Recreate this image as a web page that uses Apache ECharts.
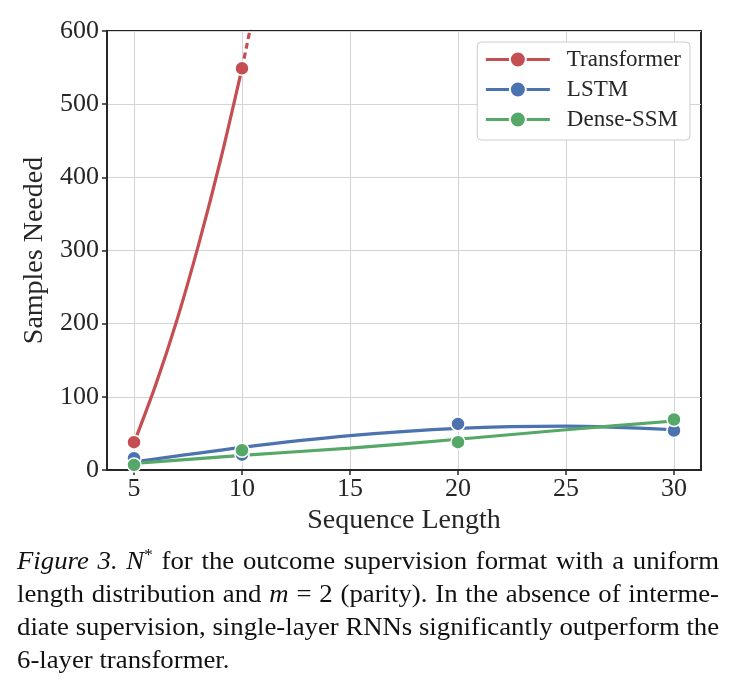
<!DOCTYPE html>
<html>
<head>
<meta charset="utf-8">
<script src="https://cdn.jsdelivr.net/npm/echarts@6/dist/echarts.min.js"></script>
<style>
  html, body { margin: 0; padding: 0; background: #fff; }
  #chart { width: 739px; height: 680px; position: absolute; left: 0; top: 0; }
  .caption {
    position: absolute; left: 17px; top: 544px; width: 702px;
    font-family: "Liberation Serif", serif; font-size: 25px; line-height: 33px; color: #111;
  }
  .caption .line { white-space: nowrap; transform-origin: 0 0; }
  .caption .line span { display: inline-block; }
  .caption sup { font-size: 16px; vertical-align: 9px; line-height: 0; }
</style>
</head>
<body>
<div id="chart"></div>
<div class="caption">
  <div class="line"><span><i>Figure 3.</i> <i>N</i><sup>*</sup> for the outcome supervision format with a uniform</span></div>
  <div class="line"><span>length distribution and <i>m</i> = 2 (parity). In the absence of interme-</span></div>
  <div class="line"><span>diate supervision, single-layer RNNs significantly outperform the</span></div>
  <div class="line last"><span>6-layer transformer.</span></div>
</div>
<script>
  // measured points
  var seqLen = [5, 10, 20, 30]
  var transformerPts = [[5, 38], [10, 549]]
  var lstmVals = [16, 21, 63, 54]
  var denseVals = [7, 27, 38, 69]

  // fitted curves
  var transformerFit = [[5, 37], [6, 116], [7, 206], [8, 309], [9, 423], [10, 549]]
  var transformerExt = [[10, 549], [10.2, 577], [10.4, 606]]
  var lstmFit = [[5, 11], [10, 31], [15, 47], [20, 57], [25, 60], [30, 55]]
  var denseFit = [[5, 9], [10, 20], [15, 30], [20, 42], [25, 55], [30, 67]]

  var xTicks = [5, 10, 15, 20, 25, 30]

  var colors = {
    Transformer: '#c44e52',
    LSTM: '#4c72b0',
    'Dense-SSM': '#55a868'
  }
  var font = '"Liberation Serif", "DejaVu Serif", serif'

  // caption: stretch lines a bit wider like the typeset original, justify full lines
  var capW = 702
  var lines = document.querySelectorAll('.caption .line')
  var s = 10
  lines.forEach(function (el) {
    if (!el.classList.contains('last')) s = Math.min(s, capW / el.firstElementChild.offsetWidth)
  })
  lines.forEach(function (el) {
    el.style.transform = 'scaleX(' + s + ')'
    if (!el.classList.contains('last')) {
      el.style.width = (capW / s) + 'px'
      el.style.textAlign = 'justify'
      el.style.textAlignLast = 'justify'
      el.firstElementChild.style.display = 'inline'
    }
  })

  function fitLine (name, data, dashed) {
    return {
      name: name,
      type: 'line',
      data: data,
      smooth: 0.3,
      symbol: 'circle',
      symbolSize: 14,
      showSymbol: false,
      itemStyle: { color: colors[name], borderColor: '#fff', borderWidth: 1.5 },
      lineStyle: { color: colors[name], width: 3.2, type: dashed ? [6, 4] : 'solid' },
      z: 2,
      silent: true
    }
  }

  function dots (name, data, z) {
    return {
      name: name,
      type: 'scatter',
      data: data,
      symbol: 'circle',
      symbolSize: 14,
      itemStyle: { color: colors[name], borderColor: '#fff', borderWidth: 1.5, opacity: 1 },
      z: z
    }
  }

  var chart = echarts.init(document.getElementById('chart'))
  var option = {
    animation: false,
    grid: {
      left: 107, right: 38, top: 31, bottom: 210,
      show: true, borderColor: '#262626', borderWidth: 2
    },
    legend: {
      data: ['Transformer', 'LSTM', 'Dense-SSM'],
      orient: 'vertical',
      right: 49,
      top: 42,
      itemWidth: 64,
      itemHeight: 20,
      itemGap: 7,
      padding: [6, 9, 9, 7],
      borderColor: '#cccccc',
      borderWidth: 1,
      borderRadius: 4,
      backgroundColor: '#fff',
      lineStyle: { width: 3.2 },
      textStyle: { fontFamily: font, fontSize: 23, color: '#262626', padding: [0, 0, 0, 12] }
    },
    xAxis: {
      type: 'value',
      min: 3.75,
      max: 31.25,
      name: 'Sequence Length',
      nameLocation: 'middle',
      nameGap: 37,
      nameTextStyle: { fontFamily: font, fontSize: 28, color: '#262626' },
      axisLine: { show: true, lineStyle: { color: '#262626', width: 2 } },
      axisTick: { show: true, length: 5, customValues: xTicks, lineStyle: { color: '#262626', width: 1.5 } },
      axisLabel: { customValues: xTicks, fontFamily: font, fontSize: 26, color: '#262626', margin: 6 },
      splitLine: { show: true, lineStyle: { color: '#d4d4d4', width: 1 } }
    },
    yAxis: {
      type: 'value',
      min: 0,
      max: 600,
      interval: 100,
      name: 'Samples Needed',
      nameLocation: 'middle',
      nameGap: 56,
      nameTextStyle: { fontFamily: font, fontSize: 28, color: '#262626' },
      axisLine: { show: true, lineStyle: { color: '#262626', width: 2 } },
      axisTick: { show: true, length: 5, lineStyle: { color: '#262626', width: 1.5 } },
      axisLabel: { fontFamily: font, fontSize: 26, color: '#262626', margin: 8 },
      splitLine: { show: true, lineStyle: { color: '#d4d4d4', width: 1 } }
    },
    series: [
      fitLine('Transformer', transformerFit, false),
      fitLine('LSTM', lstmFit, false),
      fitLine('Dense-SSM', denseFit, false),
      fitLine('Transformer', transformerExt, true),
      dots('Transformer', transformerPts, 5),
      dots('LSTM', seqLen.map(function (x, i) { return [x, lstmVals[i]] }), 6),
      dots('Dense-SSM', seqLen.map(function (x, i) { return [x, denseVals[i]] }), 7)
    ]
  }
  chart.setOption(option)
</script>
</body>
</html>
